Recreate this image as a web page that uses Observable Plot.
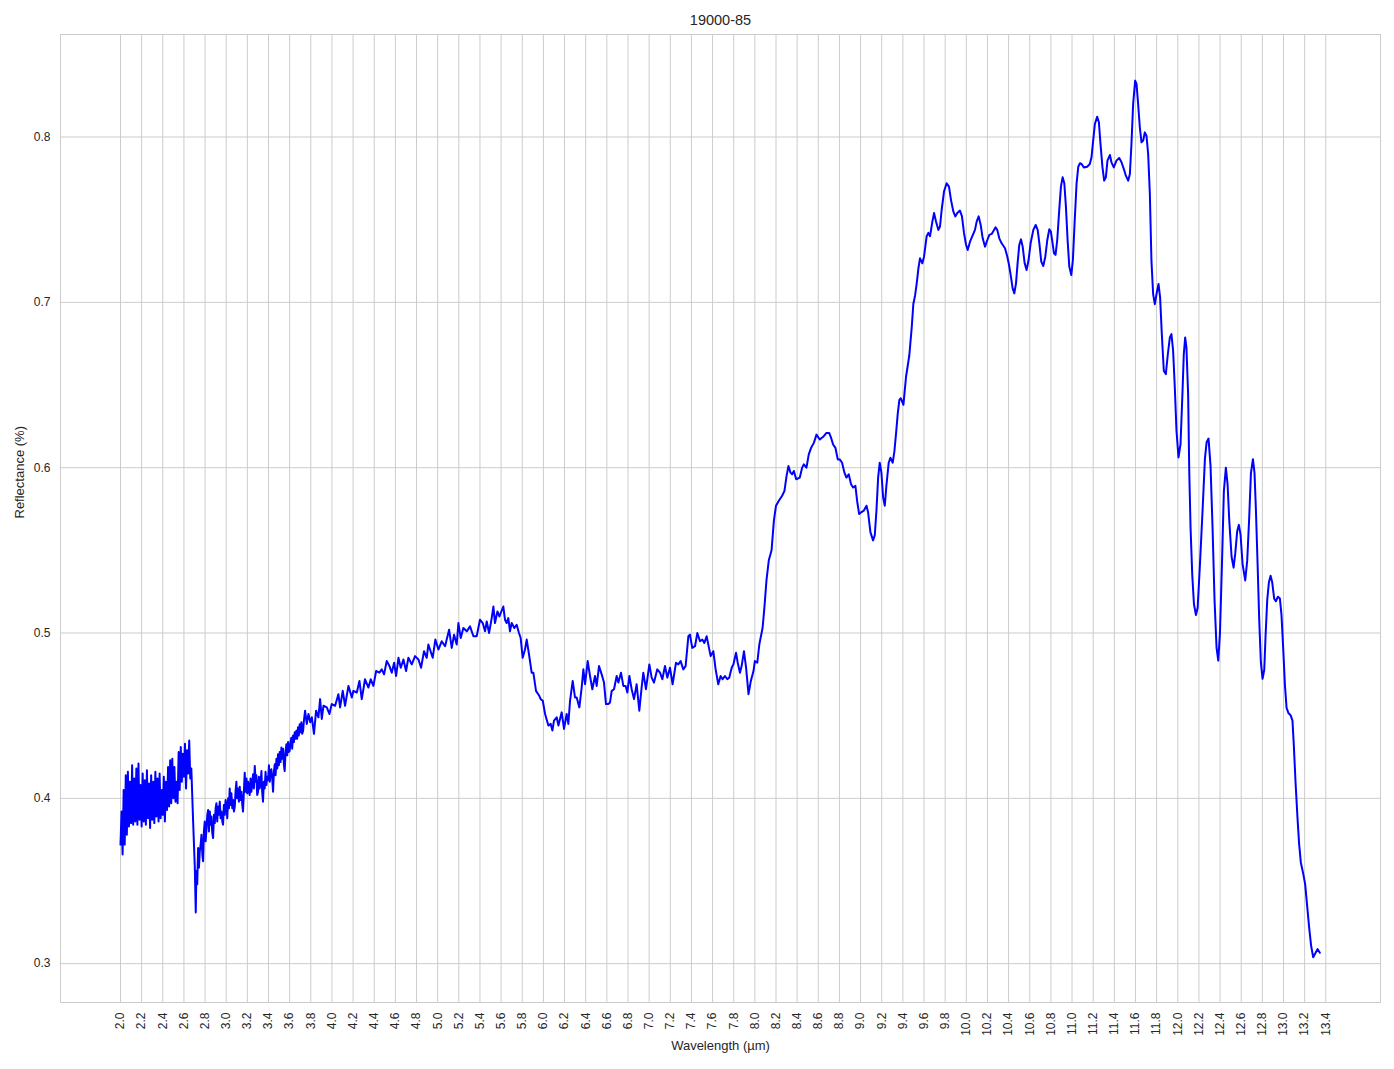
<!DOCTYPE html>
<html>
<head>
<meta charset="utf-8">
<script src="https://cdn.jsdelivr.net/npm/d3@7"></script>
<script src="https://cdn.jsdelivr.net/npm/@observablehq/plot@0.6"></script>
<style>
  body { margin: 0; background: #fff; font-family: "Liberation Sans", Arial, sans-serif; }
  #title { height: 30px; width: 1394px; position: relative; }
  #title span { position: absolute; left: 0; width: 1441px; text-align: center; top: 13px; font-size: 14.5px; color: #262626; line-height: 1; }
</style>
</head>
<body>
<div id="title"><span id="titleText"></span></div>
<div id="chart"></div>
<script>
const titleText = "19000-85";
const xLabel = "Wavelength (µm)";
const yLabel = "Reflectance (%)";
const xTicks = [2.0,2.2,2.4,2.6,2.8,3.0,3.2,3.4,3.6,3.8,4.0,4.2,4.4,4.6,4.8,5.0,5.2,5.4,5.6,5.8,6.0,6.2,6.4,6.6,6.8,7.0,7.2,7.4,7.6,7.8,8.0,8.2,8.4,8.6,8.8,9.0,9.2,9.4,9.6,9.8,10.0,10.2,10.4,10.6,10.8,11.0,11.2,11.4,11.6,11.8,12.0,12.2,12.4,12.6,12.8,13.0,13.2,13.4];
const yTicks = [0.3,0.4,0.5,0.6,0.7,0.8];

// [wavelength µm, reflectance] segments
const segNoisyStart = [[2.00,0.372],[2.01,0.392],[2.02,0.366],[2.03,0.405],[2.04,0.372],[2.05,0.414],[2.06,0.378],[2.07,0.416],[2.08,0.383],[2.09,0.410],[2.10,0.385],[2.11,0.420],[2.12,0.384],[2.13,0.412],[2.14,0.386],[2.15,0.418],[2.16,0.384],[2.17,0.421],[2.18,0.387],[2.19,0.408],[2.20,0.383],[2.21,0.415],[2.22,0.386],[2.23,0.411],[2.24,0.384],[2.25,0.417],[2.26,0.388],[2.27,0.409],[2.28,0.382],[2.29,0.414],[2.30,0.387],[2.31,0.410],[2.32,0.385],[2.33,0.416],[2.34,0.389],[2.35,0.412],[2.36,0.386],[2.37,0.415],[2.38,0.388],[2.39,0.405],[2.40,0.390],[2.41,0.413],[2.42,0.386],[2.43,0.410],[2.44,0.393],[2.45,0.419],[2.46,0.395],[2.47,0.423],[2.48,0.397],[2.49,0.424],[2.50,0.400],[2.51,0.419],[2.52,0.398],[2.53,0.410],[2.54,0.397],[2.55,0.428],[2.56,0.405],[2.57,0.431],[2.58,0.410],[2.59,0.427],[2.60,0.413],[2.61,0.433],[2.62,0.406],[2.63,0.429],[2.64,0.415],[2.65,0.435],[2.66,0.412],[2.67,0.418]];

const segDipRise = [[2.687,0.386],[2.703,0.358],[2.712,0.331],[2.718,0.356],[2.726,0.348],[2.734,0.370],[2.742,0.358],[2.750,0.368],[2.758,0.372],[2.766,0.378],[2.774,0.366],[2.781,0.362],[2.789,0.380],[2.797,0.386],[2.805,0.374],[2.813,0.381],[2.821,0.390],[2.829,0.393],[2.837,0.380],[2.845,0.392],[2.852,0.384],[2.860,0.389],[2.868,0.379],[2.876,0.376],[2.884,0.390],[2.892,0.385],[2.900,0.394],[2.907,0.397],[2.915,0.386],[2.923,0.395],[2.931,0.390],[2.939,0.398],[2.947,0.388],[2.955,0.392],[2.963,0.386],[2.970,0.384],[2.978,0.396],[2.986,0.390],[2.994,0.399],[3.002,0.396],[3.010,0.388],[3.018,0.400],[3.026,0.394],[3.033,0.406],[3.041,0.396],[3.049,0.403],[3.057,0.394],[3.065,0.399],[3.073,0.392],[3.081,0.395],[3.088,0.404],[3.096,0.410],[3.104,0.400],[3.112,0.406],[3.120,0.398],[3.128,0.407],[3.136,0.399],[3.144,0.404],[3.152,0.396],[3.159,0.392],[3.167,0.404],[3.175,0.4155],[3.183,0.404],[3.191,0.412],[3.199,0.403],[3.207,0.410],[3.215,0.405],[3.222,0.402],[3.230,0.412],[3.238,0.404],[3.246,0.409],[3.254,0.4145],[3.262,0.406],[3.270,0.4196],[3.278,0.410],[3.285,0.414],[3.293,0.402],[3.301,0.404],[3.309,0.413],[3.317,0.406],[3.325,0.410],[3.333,0.4165],[3.340,0.404],[3.348,0.398],[3.356,0.410],[3.364,0.406],[3.372,0.416],[3.380,0.408],[3.388,0.413],[3.396,0.411],[3.404,0.420],[3.412,0.410],[3.420,0.416],[3.427,0.4176],[3.435,0.412],[3.443,0.404],[3.451,0.416],[3.459,0.4206],[3.467,0.414],[3.475,0.424],[3.483,0.418],[3.490,0.4266],[3.498,0.420],[3.506,0.428],[3.514,0.422],[3.522,0.4307],[3.530,0.424],[3.538,0.430],[3.546,0.420],[3.553,0.4165],[3.561,0.428],[3.569,0.4327],[3.577,0.426],[3.585,0.434],[3.593,0.428],[3.600,0.4287],[3.608,0.434],[3.616,0.4367],[3.624,0.430],[3.632,0.438],[3.640,0.434],[3.648,0.440],[3.656,0.436],[3.663,0.4408],[3.671,0.436],[3.679,0.443],[3.687,0.438],[3.695,0.4448],[3.703,0.440],[3.711,0.446],[3.719,0.439],[3.727,0.4408],[3.735,0.447]];

const segSlope = [[3.746,0.453],[3.762,0.445],[3.778,0.451],[3.795,0.446],[3.810,0.449],[3.830,0.439],[3.850,0.453],[3.872,0.449],[3.888,0.460],[3.904,0.448],[3.920,0.456],[3.951,0.455],[3.976,0.451],[3.998,0.457],[4.030,0.456],[4.061,0.463],[4.077,0.455],[4.102,0.465],[4.124,0.456],[4.156,0.468],[4.188,0.461],[4.203,0.465],[4.235,0.464],[4.260,0.471],[4.282,0.460],[4.313,0.472],[4.345,0.467],[4.367,0.472],[4.392,0.468],[4.418,0.477],[4.449,0.476],[4.471,0.478],[4.493,0.475],[4.518,0.483],[4.544,0.480],[4.566,0.476],[4.588,0.482],[4.607,0.474],[4.629,0.485],[4.651,0.479],[4.676,0.484],[4.701,0.477],[4.723,0.485],[4.755,0.481],[4.786,0.486],[4.818,0.484],[4.843,0.479],[4.871,0.489],[4.896,0.485],[4.912,0.493],[4.953,0.485],[4.978,0.496],[5.007,0.490],[5.038,0.495],[5.070,0.492],[5.108,0.502],[5.133,0.491],[5.155,0.499],[5.180,0.493],[5.196,0.506],[5.218,0.497],[5.243,0.503],[5.275,0.501],[5.306,0.504],[5.338,0.498],[5.369,0.498],[5.400,0.508],[5.426,0.506],[5.448,0.501],[5.464,0.507],[5.486,0.500],[5.511,0.509],[5.527,0.516],[5.542,0.506],[5.565,0.513],[5.584,0.510],[5.602,0.513],[5.621,0.516],[5.637,0.508],[5.652,0.506],[5.668,0.509],[5.684,0.501],[5.700,0.506],[5.725,0.503],[5.747,0.505],[5.769,0.500],[5.785,0.497],[5.804,0.485],[5.826,0.490],[5.842,0.496],[5.864,0.487],[5.889,0.476],[5.905,0.476],[5.930,0.465],[5.961,0.462],[5.974,0.460],[5.994,0.459],[6.016,0.451],[6.047,0.444]];

const segPlateau = [[6.069,0.445],[6.085,0.441],[6.100,0.447],[6.126,0.449],[6.142,0.444],[6.173,0.452],[6.195,0.442],[6.220,0.451],[6.236,0.445],[6.252,0.459],[6.277,0.471],[6.299,0.461],[6.315,0.461],[6.340,0.455],[6.362,0.467],[6.378,0.478],[6.394,0.469],[6.419,0.483],[6.441,0.474],[6.463,0.466],[6.488,0.474],[6.504,0.468],[6.526,0.480],[6.551,0.475],[6.573,0.470],[6.592,0.457],[6.614,0.457],[6.630,0.458],[6.646,0.465],[6.668,0.466],[6.693,0.474],[6.709,0.470],[6.734,0.476],[6.756,0.468],[6.778,0.468],[6.794,0.464],[6.813,0.474],[6.835,0.466],[6.857,0.460],[6.882,0.469],[6.907,0.453],[6.929,0.467],[6.945,0.476],[6.970,0.466],[7.002,0.481],[7.024,0.473],[7.046,0.470],[7.077,0.478],[7.103,0.476],[7.125,0.472],[7.150,0.480],[7.172,0.473],[7.197,0.479],[7.222,0.469],[7.254,0.482],[7.276,0.481],[7.298,0.483],[7.323,0.478],[7.345,0.480],[7.371,0.498],[7.386,0.499],[7.408,0.491],[7.434,0.492],[7.456,0.500],[7.481,0.495],[7.503,0.496],[7.522,0.494],[7.544,0.498],[7.566,0.491],[7.582,0.486],[7.607,0.489],[7.629,0.478],[7.654,0.469],[7.676,0.474],[7.695,0.472],[7.717,0.474],[7.739,0.472],[7.758,0.473],[7.781,0.479],[7.797,0.481],[7.822,0.488],[7.838,0.482],[7.859,0.476],[7.875,0.480],[7.897,0.489],[7.917,0.479],[7.940,0.463],[7.962,0.471],[7.987,0.477],[8.000,0.483],[8.023,0.482],[8.042,0.493],[8.073,0.503]];

const segRise = [[8.091,0.516],[8.110,0.532],[8.132,0.544],[8.158,0.550],[8.180,0.568],[8.200,0.577],[8.227,0.580],[8.258,0.583],[8.280,0.586],[8.300,0.595],[8.318,0.601],[8.337,0.597],[8.353,0.596],[8.369,0.598],[8.391,0.593],[8.425,0.594],[8.447,0.600],[8.463,0.602],[8.488,0.600],[8.510,0.608],[8.532,0.612],[8.558,0.615],[8.583,0.620],[8.614,0.617],[8.652,0.619],[8.677,0.621],[8.703,0.621],[8.721,0.618],[8.740,0.614],[8.762,0.612],[8.784,0.605],[8.803,0.605],[8.825,0.603],[8.847,0.597],[8.866,0.594],[8.888,0.596],[8.910,0.590],[8.929,0.588],[8.951,0.589],[8.967,0.580],[8.986,0.572],[9.005,0.573],[9.030,0.574],[9.056,0.577],[9.071,0.573],[9.093,0.561],[9.118,0.556],[9.134,0.559],[9.150,0.574],[9.166,0.594],[9.181,0.603],[9.197,0.597],[9.213,0.582],[9.229,0.577],[9.244,0.589],[9.266,0.603],[9.282,0.606],[9.304,0.603],[9.320,0.610],[9.336,0.621],[9.352,0.633],[9.367,0.641]];

const segHigh = [[9.380,0.642],[9.405,0.638],[9.430,0.655],[9.461,0.668],[9.484,0.685],[9.499,0.699],[9.515,0.704],[9.531,0.7115],[9.547,0.7206],[9.562,0.7266],[9.584,0.7236],[9.600,0.7276],[9.625,0.740],[9.641,0.742],[9.657,0.740],[9.679,0.7488],[9.695,0.754],[9.714,0.7488],[9.736,0.7438],[9.751,0.7458],[9.767,0.756],[9.789,0.767],[9.814,0.772],[9.836,0.770],[9.855,0.762],[9.877,0.755],[9.896,0.752],[9.915,0.754],[9.940,0.7555],[9.959,0.752],[9.978,0.742],[9.997,0.735],[10.013,0.7317],[10.035,0.7367],[10.057,0.740],[10.082,0.7438],[10.098,0.7488],[10.117,0.752],[10.136,0.7468],[10.155,0.7387],[10.177,0.7337],[10.199,0.7377],[10.218,0.7408],[10.240,0.7414],[10.262,0.7438],[10.277,0.7454],[10.293,0.7438],[10.312,0.7387],[10.334,0.7357],[10.366,0.7327],[10.388,0.7276],[10.404,0.7226],[10.422,0.7155],[10.438,0.7085],[10.454,0.7054],[10.470,0.7115],[10.485,0.7236],[10.501,0.7347],[10.517,0.7381],[10.533,0.7337],[10.552,0.7236],[10.570,0.7196],[10.589,0.7256],[10.608,0.7357],[10.634,0.7438],[10.656,0.7468],[10.675,0.7438],[10.691,0.7357],[10.709,0.7246],[10.728,0.722],[10.747,0.7276],[10.766,0.7377],[10.785,0.7442],[10.800,0.7428],[10.816,0.7357],[10.829,0.7297],[10.844,0.7287],[10.860,0.7377],[10.879,0.7559],[10.895,0.770],[10.911,0.7757],[10.927,0.772],[10.942,0.758],[10.958,0.7377],[10.974,0.7216],[10.993,0.7165],[11.008,0.7256],[11.024,0.7478],[11.043,0.772],[11.059,0.782],[11.075,0.7841],[11.090,0.7837],[11.112,0.7816],[11.143,0.782],[11.168,0.7837],[11.184,0.7877]];

const segPeak = [[11.200,0.7978],[11.216,0.8079],[11.238,0.8123],[11.254,0.8089],[11.269,0.7958],[11.288,0.7816],[11.304,0.7736],[11.320,0.7756],[11.335,0.7857],[11.358,0.7891],[11.373,0.7847],[11.395,0.7816],[11.420,0.7857],[11.446,0.7873],[11.468,0.7847],[11.490,0.7806],[11.509,0.7766],[11.531,0.7736],[11.547,0.7776],[11.562,0.7958],[11.578,0.820],[11.597,0.8341],[11.610,0.8321],[11.625,0.820],[11.641,0.8059],[11.657,0.7968],[11.673,0.7978],[11.688,0.8028],[11.704,0.8008],[11.720,0.7897],[11.736,0.7655],[11.751,0.7252],[11.767,0.705],[11.783,0.6989],[11.799,0.705],[11.818,0.7111],[11.833,0.703],[11.849,0.6808],[11.868,0.6586],[11.887,0.6566],[11.906,0.6686],[11.925,0.6787],[11.940,0.6808],[11.956,0.6707],[11.972,0.6485],[11.988,0.6222],[12.007,0.6062],[12.026,0.6142],[12.044,0.6445],[12.057,0.6686],[12.070,0.6787],[12.082,0.6727],[12.098,0.6445]];

const segFall = [[12.109,0.5967],[12.121,0.5637],[12.137,0.5351],[12.153,0.5175],[12.172,0.5109],[12.188,0.5153],[12.210,0.5417],[12.235,0.5747],[12.257,0.6055],[12.273,0.6154],[12.291,0.6176],[12.310,0.6011],[12.329,0.5637],[12.348,0.5197],[12.367,0.4910],[12.383,0.4833],[12.399,0.4998],[12.418,0.5417],[12.436,0.5857],[12.455,0.600],[12.471,0.5901],[12.487,0.5681],[12.509,0.5461],[12.528,0.5395],[12.544,0.5483],[12.562,0.5615],[12.578,0.5654],[12.594,0.5593],[12.613,0.5417],[12.638,0.5318],[12.657,0.5439],[12.676,0.5703],[12.692,0.5967],[12.711,0.6051],[12.726,0.5967],[12.739,0.5747],[12.755,0.5417],[12.770,0.5087],[12.786,0.4822],[12.802,0.4723],[12.818,0.4778],[12.830,0.4976],[12.846,0.5197],[12.862,0.5307],[12.878,0.5346],[12.893,0.5307],[12.912,0.5208],[12.928,0.5192],[12.947,0.5219],[12.966,0.5208],[12.981,0.5109],[12.997,0.4910],[13.013,0.4690],[13.029,0.4547],[13.048,0.4514],[13.067,0.4503],[13.085,0.447],[13.098,0.4316],[13.114,0.4096],[13.133,0.3876],[13.148,0.3722],[13.164,0.3612],[13.186,0.3546],[13.205,0.348],[13.224,0.3348],[13.243,0.3216],[13.262,0.3105],[13.281,0.3039],[13.300,0.3061],[13.322,0.3088],[13.344,0.3066]];

const segments = [segNoisyStart, segDipRise, segSlope, segPlateau, segRise, segHigh, segPeak, segFall];
const data = segments.flat().map(([w, r]) => ({w, r}));

document.getElementById("titleText").textContent = titleText;

const font = '"Liberation Sans", Arial, sans-serif';
const gridColor = "#cccccc";

const chart = Plot.plot({
  width: 1394,
  height: 1039,
  marginTop: 4,
  marginBottom: 67,
  marginLeft: 60,
  marginRight: 14,
  style: {fontFamily: font, fontSize: "12px", color: "#262626", background: "white"},
  x: {domain: [1.4326, 13.9175]},
  y: {domain: [0.2765, 0.862]},
  marks: [
    Plot.gridX(xTicks, {stroke: gridColor, strokeOpacity: 1, strokeWidth: 1}),
    Plot.gridY(yTicks, {stroke: gridColor, strokeOpacity: 1, strokeWidth: 1}),
    Plot.frame({stroke: gridColor, strokeWidth: 1}),
    Plot.axisX(xTicks, {tickSize: 0, tickPadding: 10, tickRotate: -90, tickFormat: d => d.toFixed(1), label: null, fill: "#262626"}),
    Plot.axisY(yTicks, {tickSize: 0, tickPadding: 10, tickFormat: d => d.toFixed(1), label: null, fill: "#262626"}),
    Plot.text([xLabel], {frameAnchor: "bottom", dy: 47, fontSize: 13, fill: "#262626"}),
    Plot.text([yLabel], {frameAnchor: "left", dx: -40.5, rotate: -90, fontSize: 13, fill: "#262626"}),
    Plot.line(data, {x: "w", y: "r", stroke: "#0000ff", strokeWidth: 2})
  ]
});
document.getElementById("chart").appendChild(chart);
</script>
</body>
</html>
